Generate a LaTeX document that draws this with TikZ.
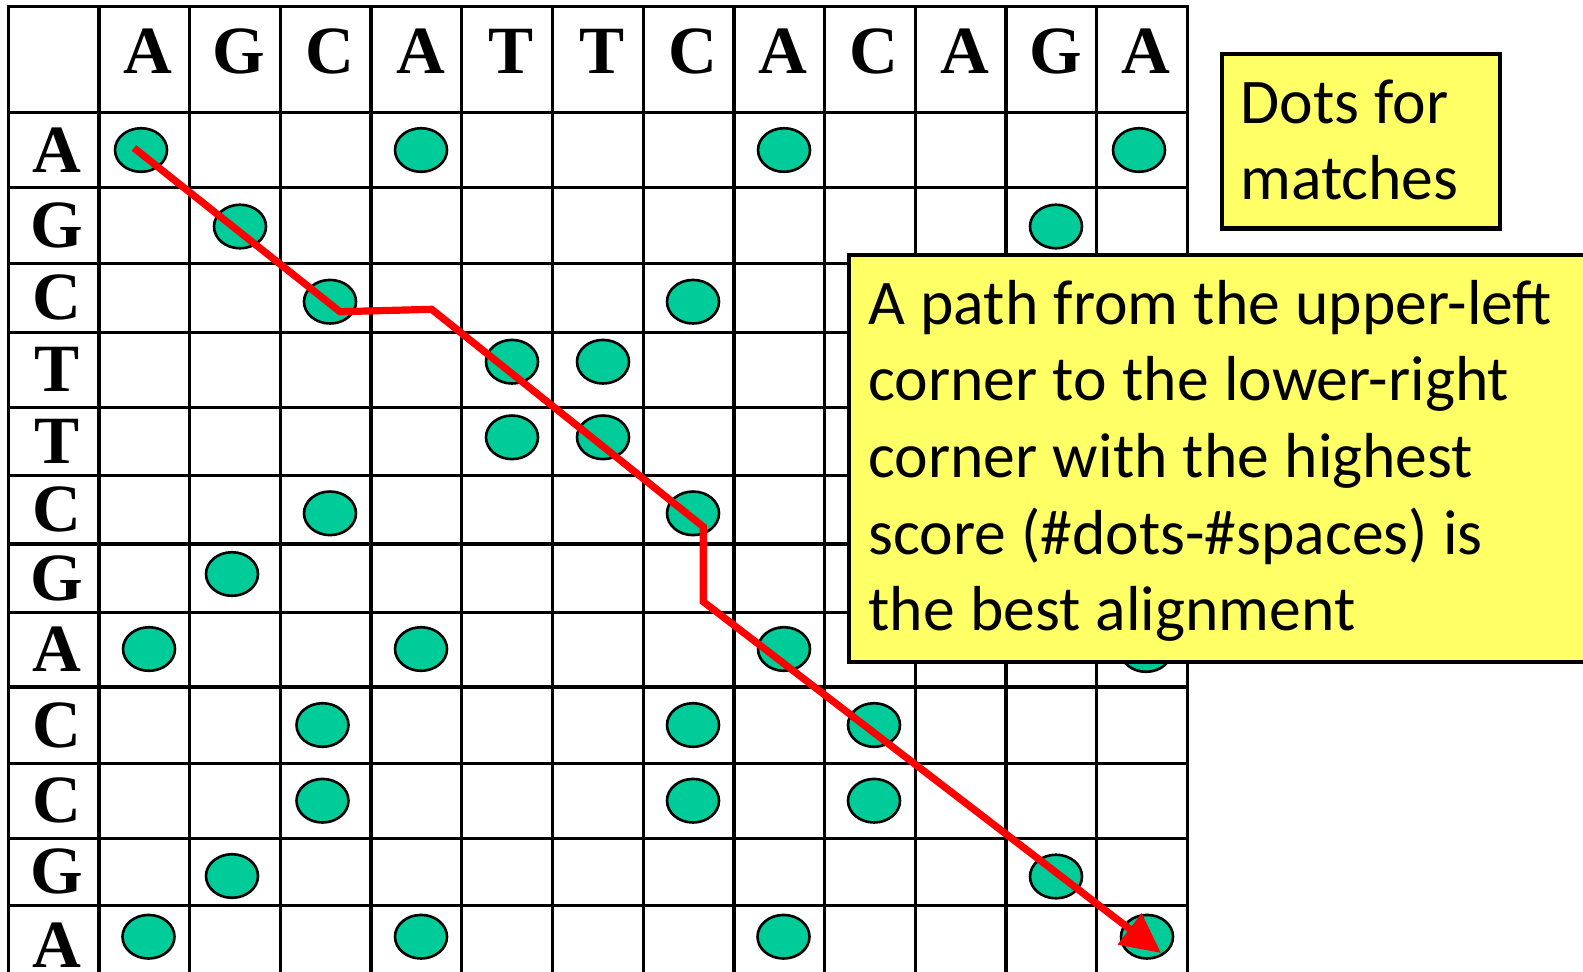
\documentclass[tikz,border=0pt]{standalone}
\usepackage{fontspec}
\setmainfont{Liberation Serif}
\newfontfamily\calibri{Carlito}
\newcommand\notefont{\calibri\fontsize{31.8}{38.3}\selectfont}
\usetikzlibrary{arrows.meta}
\definecolor{dotgreen}{HTML}{00CC99}
\definecolor{noteyellow}{HTML}{FFFF66}
\begin{document}
\begin{tikzpicture}[x=0.5pt, y=-0.5pt,
    gridline/.style={line width=1.65pt, line cap=rect},
    seq/.style={font=\bfseries\fontsize{33.8}{40}\selectfont, anchor=base, inner sep=0pt},
    match/.style={draw=black, line width=1.3pt, fill=dotgreen},
    note/.style={draw=black, line width=2.2pt, fill=noteyellow},
    notetext/.style={font=\notefont, anchor=base west, inner sep=0pt, text width=390pt,
        execute at begin node={\spaceskip=0.24em\relax}}]
    \useasboundingbox (0,0) rectangle (1583,971);
    \clip (0,0) rectangle (1583,971);

    \foreach \i in {0,...,13}
        \draw[gridline] ({8.3+90.7*\i}, 6.7) -- ({8.3+90.7*\i}, 975);
    \foreach \y in {6.7, 112.3, 187.7, 263.5, 332.3, 407.3, 475.7, 544, 612.3, 687, 763.3, 838.3, 905.3, 975}
        \draw[gridline] (8.3, \y) -- (1187.4, \y);

    \foreach \c [count=\i] in {A,G,C,A,T,T,C,A,C,A,G,A}
        \node[seq] (top\i) at ({8.3+90.7*(\i+0.5)+4}, 73.3) {\c};
    \foreach \c/\y [count=\i] in {A/172, G/247.6, C/319.9, T/391.8, T/463.5, C/531.9,
                                  G/600.2, A/671.7, C/747.2, C/822.8, G/893.8, A/967.5}
        \node[seq] (side\i) at (57, \y) {\c};

    \foreach \x/\y in {141/150, 421/150, 784/150, 1139/150,
                       240/226.5, 1056/226.5,
                       330/301.7, 693/301.7,
                       512/361.7, 603/361.7,
                       512/437.3, 603/437.3,
                       330/513.3, 693/513.3,
                       232/574,
                       149/649, 421/649, 784/649, 1146/650,
                       322.5/725, 693/725, 874/725,
                       322.5/800.7, 693/800.7, 874/800.7,
                       232/876, 1056/876.5,
                       148.5/936.7, 421/936.7, 783.5/936.7, 1147/936.7}
        \draw[match] (\x,\y) ellipse [x radius=26, y radius=21.8];

    \coordinate (s0) at (134,148);
    \coordinate (s1) at (340,311.7);
    \coordinate (s2) at (431.7,309.3);
    \coordinate (s3) at (703.3,526.7);
    \coordinate (s4) at (703.3,601.7);
    \coordinate (s5) at (1161,953);
    \draw[red, line width=3.6pt, -{Triangle[length=19.8pt, width=18.8pt]}]
        (s0) -- (s1) -- (s2) -- (s3) -- (s4) -- (s5);

    \draw[note] (1222,54) rectangle (1500,228.3);
    \node[notetext] (dotsnote) at (1240,123.3) {Dots for\\matches};
    \draw[note] (848.7,254.7) rectangle (1620,662);
    \node[notetext] (pathnote) at (868,324.3) {A path from the upper-left\\corner to the lower-right\\corner with the highest\\score (\#dots-\#spaces) is\\the best alignment};
\end{tikzpicture}
\end{document}
